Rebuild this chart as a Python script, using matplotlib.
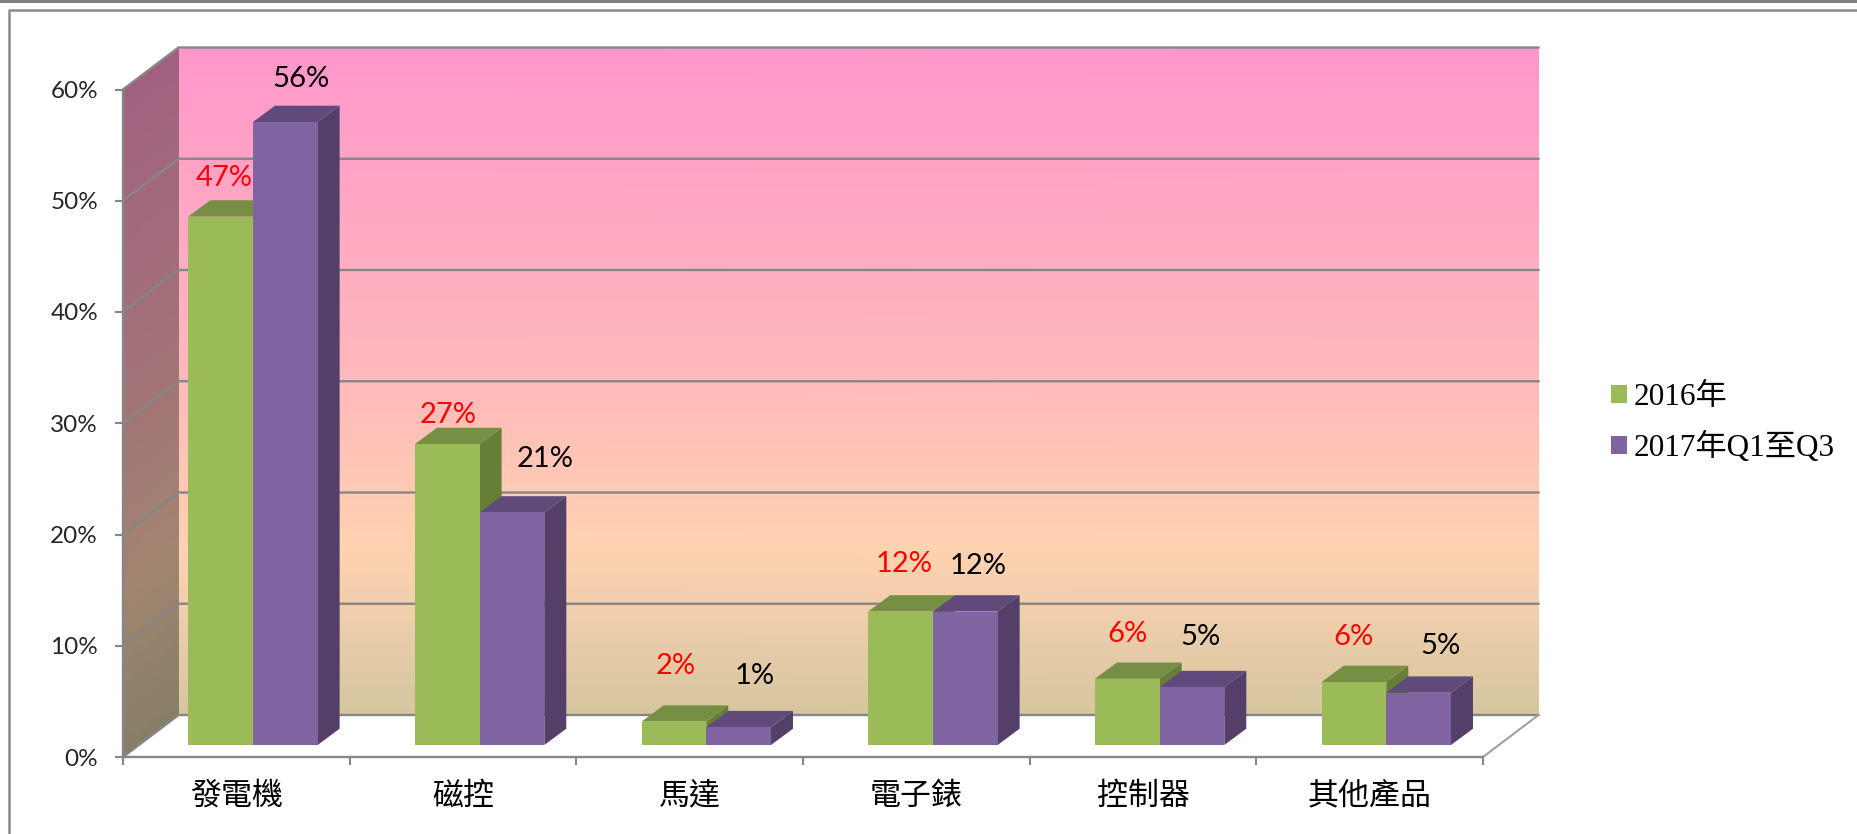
import numpy as np
import matplotlib
matplotlib.use("Agg")
import matplotlib.pyplot as plt
from matplotlib.colors import LinearSegmentedColormap
from matplotlib.lines import Line2D
from matplotlib.patches import Polygon, Rectangle

categories = ['發電機', '磁控', '馬達', '電子錶', '控制器', '其他產品']
series_names = ['2016年', '2017年Q1至Q3']
values_2016 = [47.5, 27.05, 2.1, 12.0, 5.95, 5.66]
values_2017 = [56.0, 20.9, 1.6, 12.0, 5.2, 4.7]
labels_2016 = ['47%', '27%', '2%', '12%', '6%', '6%']
labels_2017 = ['56%', '21%', '1%', '12%', '5%', '5%']
yticks = [0, 10, 20, 30, 40, 50, 60]

# layout (pixels of the figure)
W, H = 1857, 834
PX, PY = 1360 / 6, 667.5 / 60            # px per category, px per percent
LBL_OFF_2016 = [(4, 39), (1, 29), (2, 56), (3.5, 47), (0, 44.6), (0, 45)]
LBL_OFF_2017 = [(16, 43), (33, 53), (16, 51), (13, 45), (9, 50), (22, 47)]
WALL_DX, WALL_DY = 55.5 / PX, 42 / PY    # depth of the chart box
BAR_DX, BAR_DY = 22 / PX, 16.3 / PY      # depth of a bar
BASE_DX, BASE_DY = 16.6 / PX, 12 / PY    # where bars stand on the floor
BAR_W = 64.7 / PX
GRID = '#868686'
FRONT = ['#9BBB59', '#8064A2']
TOP = ['#778E45', '#604A7B']
SIDE = ['#667E35', '#533F68']
CJK = ['Noto Sans CJK TC', 'DejaVu Sans']

fig = plt.figure(figsize=(W / 100, H / 100), dpi=100, facecolor='white')
ax = fig.add_axes([123 / W, (H - 757) / H, 1360 / W, 667.5 / H])
ax.set_xlim(0, 6)
ax.set_ylim(0, 60)
ax.patch.set_visible(False)

# frame of the screenshot
fig.add_artist(Rectangle((0, 1 - 3 / H), 1, 3 / H, transform=fig.transFigure, fc='#808080', ec='none'))
fig.add_artist(Line2D([9 / W, 9 / W, 1], [0, 1 - 9.5 / H, 1 - 9.5 / H], transform=fig.transFigure, color='#8A8A8A', lw=1.8))

# walls with gradients
stops = [(0.0, '#D5C6A0'), (10 / 60, '#F2CFAD'), (15 / 60, '#FFD2B0'),
         (30 / 60, '#FFB9BB'), (1.0, '#FF97CB')]
cmap = LinearSegmentedColormap.from_list('wall', stops)
wall_cmap = LinearSegmentedColormap.from_list(
    'sidewall', [(p, tuple(np.array(matplotlib.colors.to_rgb(c)) * 0.635)) for p, c in stops])
lev = np.linspace(0, 60, 61)
Xb, Yb = np.meshgrid([WALL_DX, 6 + WALL_DX], lev + WALL_DY)
Cb = np.meshgrid([0, 1], lev)[1]
ax.pcolormesh(Xb, Yb, Cb, cmap=cmap, vmin=0, vmax=60, shading='gouraud', clip_on=False, zorder=1)
Xl = np.column_stack([np.zeros_like(lev), np.full_like(lev, WALL_DX)])
Yl = np.column_stack([lev, lev + WALL_DY])
ax.pcolormesh(Xl, Yl, Cb, cmap=wall_cmap, vmin=0, vmax=60, shading='gouraud', clip_on=False, zorder=1)

# grid on the walls
for t in yticks:
    ax.plot([0, WALL_DX, 6 + WALL_DX], [t, t + WALL_DY, t + WALL_DY], color=GRID, lw=1.7,
            clip_on=False, zorder=2, solid_joinstyle='miter')
ax.plot([6, 6 + WALL_DX], [0, WALL_DY], color='#A0A0A0', lw=1.5, clip_on=False, zorder=2)

# bars
x = np.arange(len(categories)) + 0.5 + BASE_DX
for i in range(len(categories)):
    for k, vals in enumerate([values_2016, values_2017]):
        xl = x[i] + (k - 1) * BAR_W
        xr = xl + BAR_W
        y0 = BASE_DY
        y1 = BASE_DY + vals[i]
        ax.add_patch(Polygon([(xr, y0), (xr + BAR_DX, y0 + BAR_DY), (xr + BAR_DX, y1 + BAR_DY), (xr, y1)],
                             fc=SIDE[k], ec='none', clip_on=False, zorder=3 + i + k * 0.1))
        ax.add_patch(Polygon([(xl, y1), (xr, y1), (xr + BAR_DX, y1 + BAR_DY), (xl + BAR_DX, y1 + BAR_DY)],
                             fc=TOP[k], ec='none', clip_on=False, zorder=3 + i + k * 0.1))
handles = []
for k, vals in enumerate([values_2016, values_2017]):
    cont = ax.bar(x + (k - 0.5) * BAR_W, vals, BAR_W, bottom=BASE_DY, color=FRONT[k], clip_on=False,
                  label=series_names[k])
    for i, b in enumerate(cont):
        b.set_zorder(3 + i + k * 0.1 + 0.05)
    handles.append(cont)

# value labels
for vals, texts, offs, col, k in [(values_2016, labels_2016, LBL_OFF_2016, '#FF0000', 0),
                                  (values_2017, labels_2017, LBL_OFF_2017, '#000000', 1)]:
    for i in range(len(categories)):
        ax.annotate(texts[i], (x[i] + (k - 0.5) * BAR_W, BASE_DY + vals[i]), xytext=offs[i],
                    textcoords='offset pixels', ha='center', va='center', color=col,
                    fontsize=21, family='Lato', zorder=20, annotation_clip=False)

# axes
for s in ['top', 'right']:
    ax.spines[s].set_visible(False)
for s in ['left', 'bottom']:
    ax.spines[s].set_color(GRID)
    ax.spines[s].set_linewidth(1.7)
    ax.spines[s].set_zorder(2.5)
ax.set_yticks(yticks)
ax.set_yticklabels([f'{t}%' for t in yticks], fontsize=17.5, family='Lato', color='#262626')
ax.set_xticks(np.arange(7))
ax.set_xticklabels([])
ax.set_xticks(np.arange(6) + 0.5, minor=True)
ax.set_xticklabels(categories, minor=True, fontsize=22.3, family=CJK, color='black')
ax.tick_params(axis='y', direction='out', length=6, width=1.5, color=GRID, pad=12)
ax.tick_params(axis='x', which='major', direction='out', length=6, width=1.5, color=GRID)
ax.tick_params(axis='x', which='minor', length=0, pad=17)

# legend
leg = ax.legend(handles=handles, labels=series_names, loc='center left',
                bbox_to_anchor=(1611 / W, (H - 423) / H), bbox_transform=fig.transFigure,
                frameon=False, prop={'family': ['Liberation Serif', 'Noto Sans CJK TC'], 'size': 22.5},
                handlelength=0.51, handleheight=0.51, handletextpad=0.22, labelspacing=0.62,
                borderpad=0, borderaxespad=0)

fig.savefig('out.png', dpi=100)
